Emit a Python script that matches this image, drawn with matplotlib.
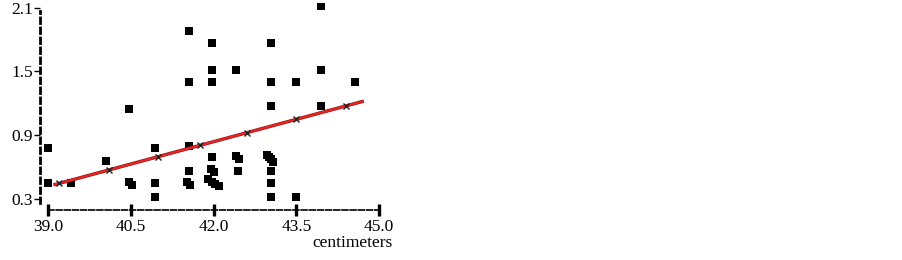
import numpy as np
import matplotlib.pyplot as plt

# measured points (length in cm, value)
length_cm = [39.0, 39.0, 39.42, 40.05, 40.46, 40.46, 40.52, 40.94, 40.94, 40.94,
             41.55, 41.55, 41.55, 41.55, 41.52, 41.58,
             41.97, 41.97, 41.97, 41.97, 41.95, 42.0, 41.9, 41.97, 42.03, 42.1,
             42.41, 42.41, 42.46, 42.44,
             43.04, 43.04, 43.04, 42.97, 43.0, 43.04, 43.08, 43.04, 43.04, 43.04,
             43.49, 43.49, 43.95, 43.95, 43.95, 44.56]
value = [0.78, 0.45, 0.45, 0.66, 1.15, 0.46, 0.43, 0.78, 0.45, 0.32,
         1.88, 1.40, 0.80, 0.56, 0.46, 0.43,
         1.77, 1.51, 1.40, 0.69, 0.58, 0.55, 0.49, 0.46, 0.44, 0.42,
         1.51, 0.70, 0.67, 0.56,
         1.77, 1.40, 1.17, 0.71, 0.69, 0.67, 0.65, 0.56, 0.45, 0.32,
         1.40, 0.32, 2.12, 1.51, 1.17, 1.40]

# fitted line and its marked points
fit_x = [39.1, 44.72]
fit_y = [0.43, 1.22]
fit_mark_x = [39.2, 40.1, 41.0, 41.75, 42.6, 43.5, 44.4]

xticks = [39.0, 40.5, 42.0, 43.5, 45.0]
yticks = [0.3, 0.9, 1.5, 2.1]

plt.rcParams['font.family'] = ['Liberation Serif', 'DejaVu Serif']

fig = plt.figure(figsize=(9.02, 2.6), dpi=100)
ax = fig.add_axes([40/902, 56/260, 342/902, 201/260])

ax.plot(length_cm, value, 's', color='black', markersize=5.4, markeredgewidth=0)

slope = (fit_y[1]-fit_y[0])/(fit_x[1]-fit_x[0])
mark_y = [fit_y[0] + slope*(x-fit_x[0]) for x in fit_mark_x]
ax.plot(fit_x, fit_y, '-', color='#7a1818', linewidth=2.4, solid_capstyle='butt')
ax.plot(fit_x, fit_y, '-', color='#ee2222', linewidth=1.6, solid_capstyle='butt')
ax.plot(fit_mark_x, mark_y, 'x', color='#222222', markersize=4, markeredgewidth=1)

ax.set_xlim(38.855, 45.05)
ax.set_ylim(0.25, 2.145)

for s in ['top', 'right']:
    ax.spines[s].set_visible(False)
ax.spines['left'].set_linestyle((0, (2.0, 1.6)))
ax.spines['left'].set_linewidth(2.0)
ax.spines['left'].set_bounds(0.26, 2.07)
ax.spines['bottom'].set_linestyle((0, (3.5, 1.4)))
ax.spines['bottom'].set_linewidth(1.2)
ax.spines['bottom'].set_position(('outward', 4.5))
ax.spines['bottom'].set_bounds(39.0, 45.0)

ax.set_xticks(xticks)
ax.set_xticklabels([f'{t:.1f}' for t in xticks])
ax.set_yticks(yticks)
ax.set_yticklabels([f'{t:.1f}' for t in yticks])
ax.tick_params(axis='x', direction='inout', length=8, width=2.4, pad=2, labelsize=12.5)
ax.tick_params(axis='y', direction='out', length=4, width=1, pad=1, labelsize=12.5)

fig.text(393/902, 1 - 243/260, 'centimeters', ha='right', va='center', fontsize=12.5)

fig.savefig('out.png', dpi=100, facecolor='white')
